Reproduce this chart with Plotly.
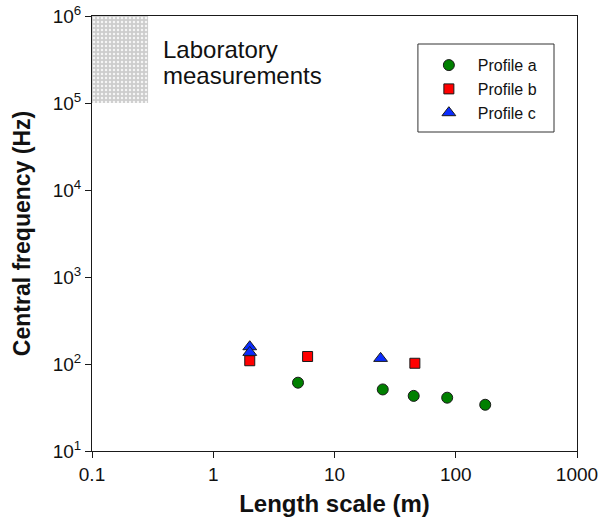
import plotly.graph_objects as go

# Central frequency versus length scale for three profiles
profile_a_length = [5, 25, 45, 85, 175]
profile_a_freq = [61, 51, 43, 41, 34]

profile_b_length = [2, 6, 46]
profile_b_freq = [109, 122, 102]

profile_c_length = [2, 2, 24]
profile_c_freq = [158, 136, 116]

# Range covered by laboratory measurements
lab_length = [0.1, 0.29]
lab_freq = [1e5, 1e6]

x_tickvals = [0.1, 1, 10, 100, 1000]
x_ticktext = ["0.1", "1", "10", "100", "1000"]
y_exponents = [1, 2, 3, 4, 5, 6]

FONT = "Liberation Sans, Arial, sans-serif"
EDGE = "#1a1a1a"

fig = go.Figure()

# shaded laboratory box
fig.add_trace(go.Scatter(
    x=[lab_length[0], lab_length[1], lab_length[1], lab_length[0], lab_length[0]],
    y=[lab_freq[0], lab_freq[0], lab_freq[1], lab_freq[1], lab_freq[0]],
    mode="lines", fill="toself", line=dict(width=0),
    fillcolor="#d2d2d2",
    fillpattern=dict(shape=".", bgcolor="#cdcdcd", fgcolor="#f6f6f6",
                     size=4, solidity=0.3, fillmode="replace"),
    showlegend=False, hoverinfo="skip",
))

fig.add_trace(go.Scatter(
    x=profile_a_length, y=profile_a_freq, mode="markers", name="Profile a",
    marker=dict(symbol="circle", size=11, color="#008000",
                line=dict(color=EDGE, width=1)),
))
fig.add_trace(go.Scatter(
    x=profile_b_length, y=profile_b_freq, mode="markers", name="Profile b",
    marker=dict(symbol="square", size=10, color="#ff0000",
                line=dict(color=EDGE, width=1)),
))
fig.add_trace(go.Scatter(
    x=profile_c_length, y=profile_c_freq, mode="markers", name="Profile c",
    marker=dict(symbol="triangle-up", size=12, color="#0a2cff",
                line=dict(color=EDGE, width=1)),
))

axis_common = dict(
    type="log", showgrid=False, zeroline=False, automargin=False,
    showline=True, linecolor=EDGE, linewidth=1, mirror=True,
    ticks="outside", ticklen=6, tickwidth=1, tickcolor=EDGE,
    tickfont=dict(family=FONT, size=19, color="#111"),
)

fig.update_xaxes(
    **axis_common, range=[-1, 3],
    tickvals=x_tickvals, ticktext=x_ticktext,
    title=dict(text="<b>Length scale (m)</b>",
               font=dict(family=FONT, size=24, color="#111"), standoff=11),
)
fig.update_yaxes(
    **axis_common, range=[1, 6],
    tickvals=[10 ** e for e in y_exponents],
    ticktext=[f"10<sup>{e}</sup>" for e in y_exponents],
    title=dict(text="<b>Central frequency (Hz)</b>",
               font=dict(family=FONT, size=23, color="#111"), standoff=15),
)

# legend frame
fig.add_shape(type="rect", xref="paper", yref="paper",
              x0=0.672, x1=0.9526, y0=0.7333, y1=0.9356,
              line=dict(color="#333", width=1), fillcolor="rgba(0,0,0,0)")

# two-line label beside the laboratory box
for line_text, ypos in [("Laboratory", 0.923), ("measurements", 0.864)]:
    fig.add_annotation(
        text=line_text, xref="paper", yref="paper",
        x=0.143, y=ypos, xanchor="left", yanchor="middle", align="left",
        showarrow=False, font=dict(family=FONT, size=24, color="#111"),
    )

fig.update_layout(
    width=602, height=519,
    margin=dict(l=92, r=25, t=16, b=68),
    paper_bgcolor="white", plot_bgcolor="white",
    showlegend=True,
    legend=dict(
        x=0.676, y=0.926, xanchor="left", yanchor="top",
        bgcolor="rgba(0,0,0,0)", borderwidth=0,
        font=dict(family=FONT, size=16, color="#111"),
        tracegroupgap=0, itemsizing="trace", itemwidth=48,
    ),
)

fig.write_html("out.html")
